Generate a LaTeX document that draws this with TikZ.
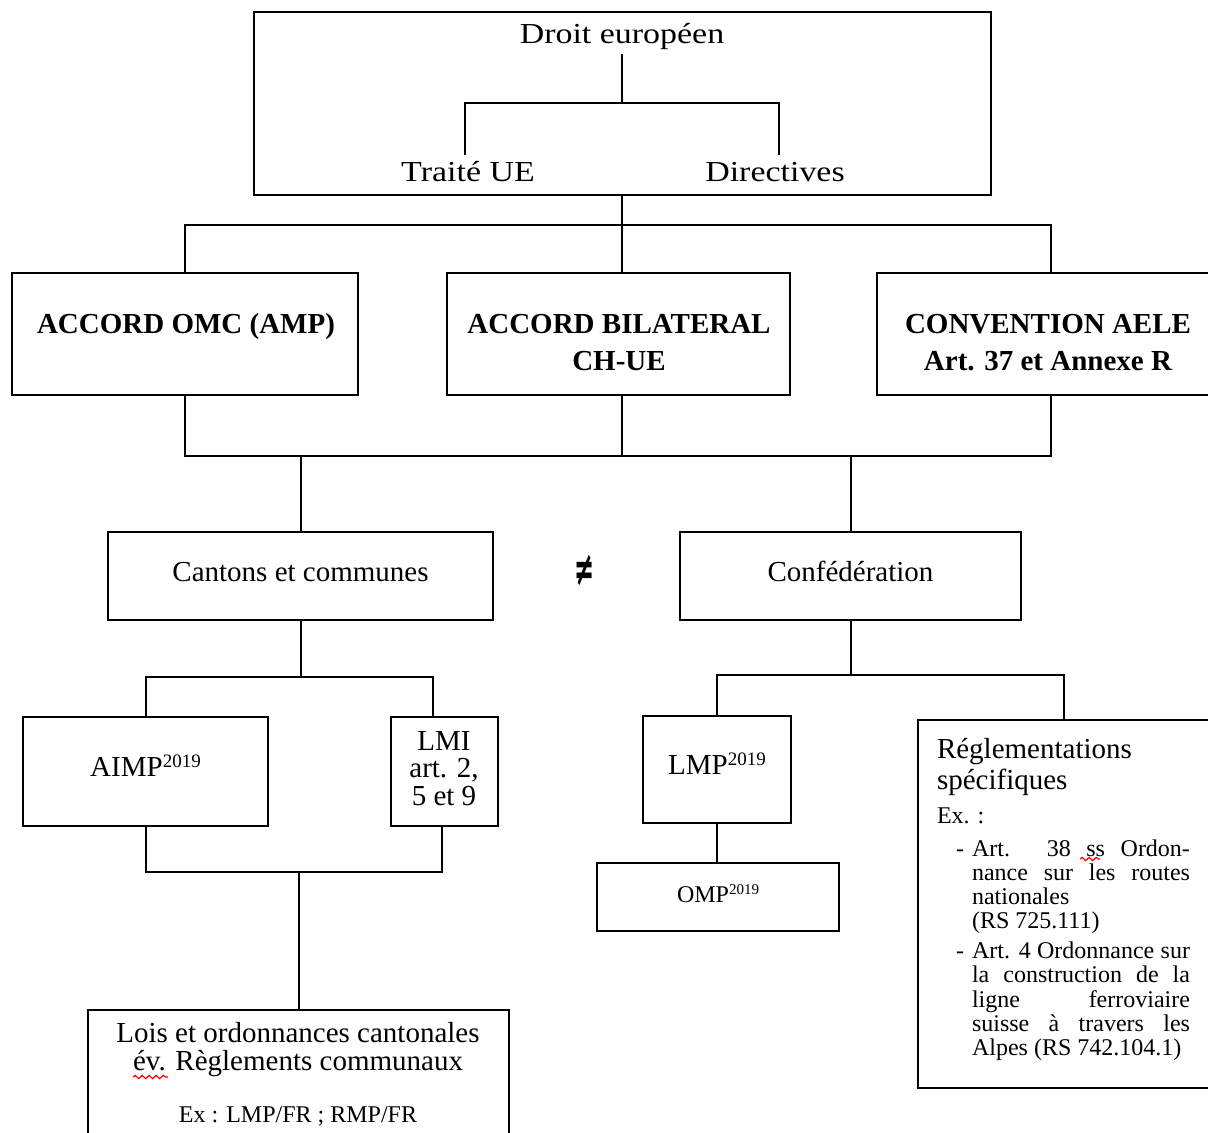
\documentclass[tikz,border=0pt]{standalone}
\usepackage{fontspec}
\setmainfont{Liberation Serif}
\newfontfamily\djv{DejaVu Sans}
\usetikzlibrary{calc,decorations.pathmorphing}
\newcommand\hwide[2]{\scalebox{#1}[1]{#2}}
\newcommand\fTop{\fontsize{14.5}{17}\selectfont}
\newcommand\fMid{\fontsize{14.5}{17}\selectfont}
\newcommand\fBld{\fontsize{14.5}{17}\selectfont\bfseries}
\newcommand\fSm{\fontsize{12}{12.5}\selectfont}
\newcommand\fNeq{\djv\fontsize{24}{24}\selectfont\bfseries}
\newcommand\supA[1]{\raisebox{4.5pt}{\fontsize{9.5}{10}\selectfont #1}}
\newcommand\supB[1]{\raisebox{4pt}{\fontsize{7.5}{8}\selectfont #1}}
\begin{document}
\begin{tikzpicture}[x=0.5pt,y=-0.5pt,
  bx/.style={draw, line width=1pt, inner sep=0pt, outer sep=0pt, text height=0.7em, text depth=0.2em},
  lbl/.style={inner sep=0pt, outer sep=0pt, text height=0.7em, text depth=0.2em},
  conn/.style={draw, line width=1pt},
  spell/.style={draw=red, line width=0.6pt, decorate, decoration={snake, amplitude=0.8pt, segment length=3.5pt}}]
\fill[white] (0,0) rectangle (1208,1132);
\useasboundingbox (0,0) rectangle (1208,1132);

% boxes
\node[bx, minimum width=368.5pt, minimum height=91.5pt] (top) at (622.5,103.5) {};
\node[bx, minimum width=173pt, minimum height=61pt] (omc) at (185,334) {};
\node[bx, minimum width=171.5pt, minimum height=61pt] (bil) at (618.5,334) {};
\node[bx, minimum width=174pt, minimum height=61pt] (conv) at (1051,334) {};
\node[bx, font=\fMid, minimum width=192.5pt, minimum height=44pt] (cant) at (300.5,576) {Cantons et communes};
\node[bx, font=\fMid, minimum width=170.5pt, minimum height=44pt] (conf) at (850.5,576) {Confédération};
\node[bx, font=\fMid, minimum width=122.5pt, minimum height=54.5pt] (aimp) at (145.5,771.5) {AIMP\supA{2019}};
\node[bx, minimum width=53.5pt, minimum height=54.5pt] (lmi) at (444.5,771.5) {};
\node[bx, font=\fMid, minimum width=74pt, minimum height=53.5pt] (lmp) at (717,769.5) {LMP\supA{2019}};
\node[bx, font=\fSm, minimum width=121pt, minimum height=34pt] (omp) at (718,897) {OMP\supB{2019}};
\node[bx, minimum width=146pt, minimum height=184pt] (regl) at (1064,904) {};
\node[bx, minimum width=210.5pt, minimum height=75pt] (lois) at (298.5,1085) {};

% texts
\node[lbl, font=\fTop] (de) at (622,38) {\hwide{1.17}{Droit européen}};
\node[lbl, font=\fTop] (tue) at (468,176) {\hwide{1.17}{Traité UE}};
\node[lbl, font=\fTop] (dir) at (775,176) {\hwide{1.17}{Directives}};
\node[lbl, font=\fBld] (tomc) at (186,328) {ACCORD OMC (AMP)};
\node[lbl, font=\fBld] (tbil1) at (619,328) {ACCORD BILATERAL};
\node[lbl, font=\fBld] (tbil2) at (619,365) {CH-UE};
\node[lbl, font=\fBld] (tconv1) at (1048,328) {CONVENTION AELE};
\node[lbl, font=\fBld] (tconv2) at (1048,365) {Art. 37 et Annexe R};
\node[lbl, font=\fNeq] (neq) at (585,580) {\hwide{0.5}{≠}};
\node[lbl, font=\fMid] (tlmi1) at (444,745) {LMI};
\node[lbl, font=\fMid] (tlmi2) at (444,772) {art. 2,};
\node[lbl, font=\fMid] (tlmi3) at (444,800) {5 et 9};
\node[lbl, font=\fMid] (tlois1) at (298,1037) {Lois et ordonnances cantonales};
\node[lbl, font=\fMid] (tlois2) at (298,1065) {év. Règlements communaux};
\node[lbl, font=\fSm] (tlois3) at (298,1117) {Ex : LMP/FR ; RMP/FR};

\node[lbl, font=\fMid, anchor=west] (rg1) at (937,753) {Réglementations};
\node[lbl, font=\fMid, anchor=west] (rg2) at (937,784) {spécifiques};
\node[lbl, font=\fSm, anchor=west] (rg3) at (937,818) {Ex. :};
\node[lbl, font=\fSm, anchor=west] (d1) at (956,851) {-};
\node[lbl, font=\fSm, anchor=west] (r1) at (972,851) {\makebox[109pt][s]{Art. 38 ss Ordon-}};
\node[lbl, font=\fSm, anchor=west] (r2) at (972,875) {\makebox[109pt][s]{nance sur les routes}};
\node[lbl, font=\fSm, anchor=west] (r3) at (972,899) {nationales};
\node[lbl, font=\fSm, anchor=west] (r4) at (972,923) {(RS 725.111)};
\node[lbl, font=\fSm, anchor=west] (d2) at (956,953) {-};
\node[lbl, font=\fSm, anchor=west] (r5) at (972,953) {\makebox[109pt][s]{Art. 4 Ordonnance sur}};
\node[lbl, font=\fSm, anchor=west] (r6) at (972,977) {\makebox[109pt][s]{la construction de la}};
\node[lbl, font=\fSm, anchor=west] (r7) at (972,1002) {\makebox[109pt][s]{ligne ferroviaire}};
\node[lbl, font=\fSm, anchor=west] (r8) at (972,1026) {\makebox[109pt][s]{suisse à travers les}};
\node[lbl, font=\fSm, anchor=west] (r9) at (972,1050) {Alpes (RS 742.104.1)};

% spell-check marks
\path[spell] (133,1077) -- (168,1077);
\path[spell] (1080,859) -- (1100,859);

% connectors
\coordinate (j1) at (622,103);
\draw[conn] (de.south) ++(0,7) -- (j1);
\draw[conn] ($(tue.north)+(-3,-12)$) |- (j1) -| ($(dir.north)+(4,-12)$);
\coordinate (j2) at (622,225);
\draw[conn] (top.south -| j2) -- (j2);
\draw[conn] (omc.north) |- (j2) -| (conv.north);
\draw[conn] (bil.north -| j2) -- (j2);
\coordinate (j3) at (622,456);
\draw[conn] (omc.south) |- (j3) -| (conv.south);
\draw[conn] (bil.south -| j3) -- (j3);
\draw[conn] (cant.north) -- (cant.north |- j3);
\draw[conn] (conf.north) -- (conf.north |- j3);
\coordinate (j4) at (300.5,677);
\draw[conn] (cant.south) -- (j4);
\draw[conn] (aimp.north) |- (j4) -| ($(lmi.north)+(-12,0)$);
\coordinate (j5) at (298.5,872);
\draw[conn] (aimp.south) |- (j5) -| ($(lmi.south)+(-3,0)$);
\draw[conn] (lois.north) -- (j5);
\coordinate (j6) at (850.5,675);
\draw[conn] (conf.south) -- (j6);
\draw[conn] (lmp.north) |- (j6) -| (regl.north);
\draw[conn] (lmp.south) -- (lmp.south |- omp.north);
\end{tikzpicture}
\end{document}
